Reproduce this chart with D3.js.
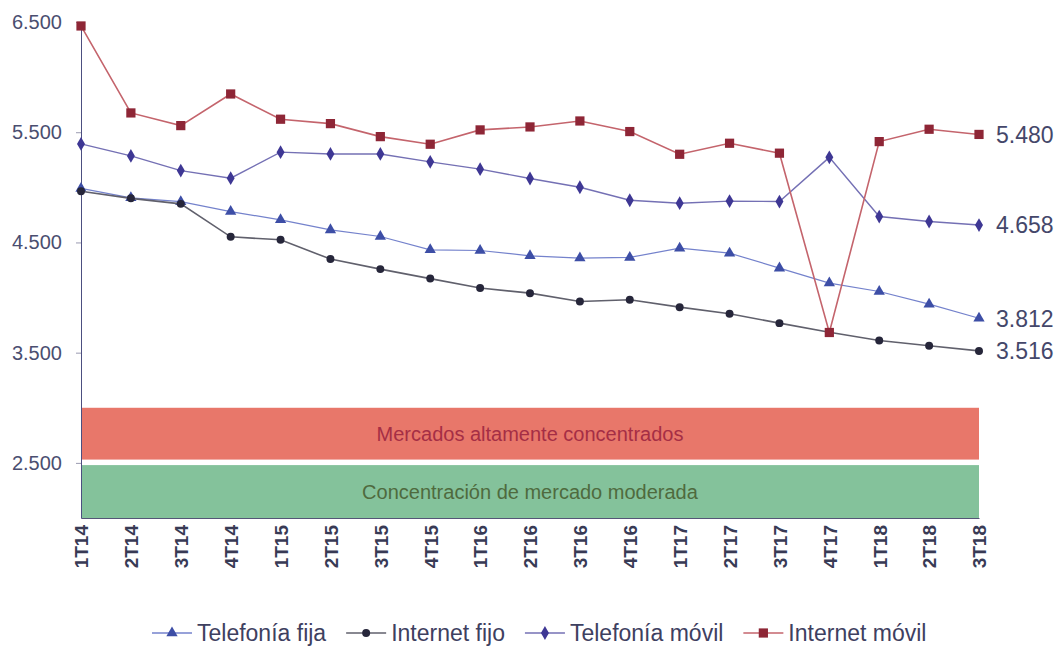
<!DOCTYPE html>
<html>
<head>
<meta charset="utf-8">
<script src="https://cdn.jsdelivr.net/npm/d3@7"></script>
<style>
  body { margin: 0; background: #fff; }
  svg { font-family: "Liberation Sans", Arial, sans-serif; }
</style>
</head>
<body>
<svg id="chart" width="1060" height="648"></svg>
<script>
// quarters
var quarters = ["1T14","2T14","3T14","4T14","1T15","2T15","3T15","4T15","1T16","2T16",
  "3T16","4T16","1T17","2T17","3T17","4T17","1T18","2T18","3T18"];

var telefoniaFija   = [4990,4905,4870,4780,4705,4614,4554,4433,4427,4379,4358,4364,4448,4403,4267,4131,4055,3940,3812];
var internetFijo    = [4965,4900,4850,4551,4524,4349,4258,4172,4086,4040,3964,3980,3913,3853,3768,3685,3611,3563,3516];
var telefoniaMovil  = [5394,5285,5152,5083,5319,5303,5303,5231,5165,5080,5001,4883,4856,4875,4871,5272,4735,4690,4658];
var internetMovil   = [6464,5675,5560,5847,5618,5578,5460,5391,5521,5548,5602,5506,5300,5400,5310,3683,5415,5527,5480];

var seriesNames = ["Telefonía fija","Internet fijo","Telefonía móvil","Internet móvil"];
var yTicks = [2500,3500,4500,5500,6500];

// concentration bands
var bandNames  = ["Mercados altamente concentrados","Concentración de mercado moderada"];
var bandRanges = [[2530,3000],[2000,2480]];

var series = [
  {name: seriesNames[0], values: telefoniaFija,  line: "#7482cc", mark: "#3d4ea6", symbol: d3.symbolTriangle, size: 55, lw: 1.2},
  {name: seriesNames[1], values: internetFijo,   line: "#60606c", mark: "#26263a", symbol: d3.symbolCircle,   size: 50, lw: 1.6},
  {name: seriesNames[2], values: telefoniaMovil, line: "#7470b4", mark: "#3e3794", symbol: d3.symbolDiamond,  size: 55, lw: 1.4},
  {name: seriesNames[3], values: internetMovil,  line: "#c4646c", mark: "#8e2636", symbol: d3.symbolSquare,   size: 85, lw: 1.6}
];
var bandColors = ["#e8776a","#84c29b"];
var bandText   = ["#a52e45","#4f6a3e"];

var svg = d3.select("#chart");
var fmt = d3.formatLocale({decimal: ",", thousands: ".", grouping: [3], currency: ["", "€"]}).format(",.0f");

var x = d3.scalePoint().domain(quarters).range([81, 979]);
var y = d3.scaleLinear().domain([2000, 6500]).range([518, 22]);

// bands
var bands = svg.append("g");
bands.selectAll("rect")
  .data(bandRanges)
  .enter().append("rect")
  .attr("x", x(quarters[0]))
  .attr("width", x(quarters[quarters.length - 1]) - x(quarters[0]))
  .attr("y", d => y(d[1]))
  .attr("height", d => y(d[0]) - y(d[1]))
  .attr("fill", (d, i) => bandColors[i]);
bands.selectAll("text")
  .data(bandRanges)
  .enter().append("text")
  .attr("x", 530)
  .attr("y", d => (y(d[0]) + y(d[1])) / 2)
  .attr("dy", "0.35em")
  .attr("text-anchor", "middle")
  .attr("font-size", 20)
  .attr("fill", (d, i) => bandText[i])
  .text((d, i) => bandNames[i]);

// y axis
var yAxis = svg.append("g")
  .attr("transform", "translate(" + x(quarters[0]) + ",0)")
  .call(d3.axisLeft(y).tickValues(yTicks).tickSize(5).tickSizeOuter(0).tickFormat(fmt).tickPadding(14));
yAxis.select(".domain").attr("stroke", "#4c4f80");
yAxis.selectAll(".tick line").attr("stroke", "#9a9ab0");
yAxis.selectAll("text").attr("font-size", 20).attr("fill", "#4a4e70").attr("font-family", "Liberation Sans, Arial");

// x axis
var xAxis = svg.append("g")
  .attr("transform", "translate(0," + y(2000) + ")")
  .call(d3.axisBottom(x).tickSize(0).tickSizeOuter(0));
xAxis.select(".domain").attr("stroke", "#555577").attr("stroke-width", 1.2);
xAxis.selectAll("text")
  .attr("transform", "rotate(-90)")
  .attr("text-anchor", "end")
  .attr("x", -7)
  .attr("y", 0)
  .attr("dy", "0.36em")
  .attr("font-size", 19)
  .attr("font-weight", "bold")
  .attr("fill", "#383a55")
  .attr("font-family", "Liberation Sans, Arial");

// lines and markers
var line = d3.line().x((d, i) => x(quarters[i])).y(d => y(d));
series.forEach(function(s) {
  var g = svg.append("g");
  g.append("path")
    .datum(s.values)
    .attr("d", line)
    .attr("fill", "none")
    .attr("stroke", s.line)
    .attr("stroke-width", s.lw);
  g.selectAll("path.pt")
    .data(s.values)
    .enter().append("path")
    .attr("class", "pt")
    .attr("d", d3.symbol().type(s.symbol).size(s.size))
    .attr("transform", (d, i) => "translate(" + x(quarters[i]) + "," + y(d) + ")")
    .attr("fill", s.mark);
  // end value label
  var last = s.values[s.values.length - 1];
  g.append("text")
    .attr("x", x(quarters[quarters.length - 1]) + 17)
    .attr("y", y(last))
    .attr("dy", "0.36em")
    .attr("font-size", 23)
    .attr("fill", "#44476a")
    .text(fmt(last));
});

// legend
var legend = svg.append("g").attr("transform", "translate(0,633)");
var lx = 152;
series.forEach(function(s) {
  var it = legend.append("g").attr("transform", "translate(" + lx + ",0)");
  it.append("line").attr("x1", 0).attr("x2", 40).attr("y1", 0).attr("y2", 0)
    .attr("stroke", s.line).attr("stroke-width", 1.6);
  it.append("path")
    .attr("d", d3.symbol().type(s.symbol).size(s.size))
    .attr("transform", "translate(20,0)")
    .attr("fill", s.mark);
  var t = it.append("text")
    .attr("x", 45)
    .attr("dy", "0.35em")
    .attr("font-size", 23)
    .attr("fill", "#3e4060")
    .text(s.name);
  lx += 45 + t.node().getComputedTextLength() + 20;
});
</script>
</body>
</html>
